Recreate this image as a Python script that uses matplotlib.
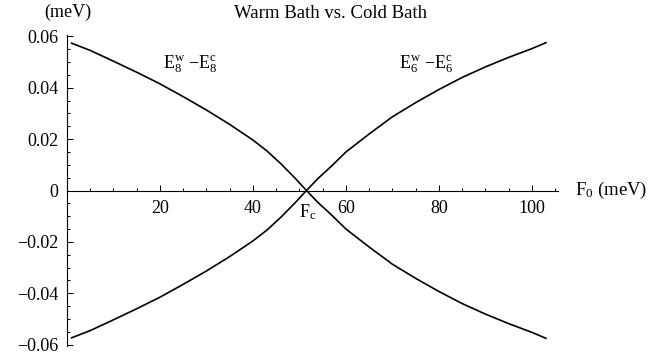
import matplotlib
matplotlib.use("Agg")
import matplotlib.pyplot as plt
from matplotlib.ticker import MultipleLocator, FixedLocator

plt.rcParams["font.family"] = ["Liberation Serif", "DejaVu Serif"]
plt.rcParams["mathtext.fontset"] = "custom"
plt.rcParams["mathtext.rm"] = "Liberation Serif"
plt.rcParams["mathtext.it"] = "Liberation Serif:italic"

# Driving field F0 (meV) and warm-minus-cold energy differences (meV)
f0 = [1, 5, 10, 15, 20, 25, 30, 35, 40, 43, 46, 49, 51.5,
      54, 57, 60, 65, 70, 75, 80, 85, 90, 95, 100, 103]
de6 = [-0.0573, -0.0545, -0.0503, -0.0460, -0.0415, -0.0365, -0.0313,
       -0.0257, -0.0196, -0.0154, -0.0104, -0.0049, 0.0,
       0.0047, 0.0097, 0.0150, 0.0220, 0.0287, 0.0342, 0.0393, 0.0440,
       0.0481, 0.0518, 0.0552, 0.0575]
de8 = [0.0573, 0.0545, 0.0503, 0.0460, 0.0415, 0.0365, 0.0313,
       0.0257, 0.0196, 0.0154, 0.0104, 0.0049, 0.0,
       -0.0047, -0.0097, -0.0150, -0.0220, -0.0287, -0.0342, -0.0393,
       -0.0440, -0.0481, -0.0518, -0.0552, -0.0575]
x_major = [20, 40, 60, 80, 100]
y_major = [-0.06, -0.04, -0.02, 0.0, 0.02, 0.04, 0.06]
y_labels = ["\u22120.06", "\u22120.04", "\u22120.02", "0", "0.02", "0.04", "0.06"]

fig = plt.figure(figsize=(6.49, 3.58), dpi=100)
W, H = 649, 358
ax = fig.add_axes([67 / W, 1 - 346 / H, (558 - 67) / W, (346 - 35) / H])
ax.set_xlim(0, 105.6)
ax.set_ylim(-0.0605, 0.0605)

ax.plot(f0, de8, color="black", lw=1.2)
ax.plot(f0, de6, color="black", lw=1.2)

for s in ("top", "right"):
    ax.spines[s].set_visible(False)
ax.spines["bottom"].set_position(("data", 0))
ax.spines["left"].set_position(("data", 0))
for s in ("bottom", "left"):
    ax.spines[s].set_linewidth(0.8)

ax.xaxis.set_major_locator(FixedLocator(x_major))
ax.xaxis.set_minor_locator(MultipleLocator(5))
ax.yaxis.set_major_locator(FixedLocator(y_major))
ax.set_yticklabels(y_labels)
ax.yaxis.set_minor_locator(MultipleLocator(0.005))
ax.tick_params(which="both", direction="in", labelsize=13, width=0.7,
               pad=6)
ax.tick_params(which="major", length=4.5)
ax.tick_params(which="minor", length=2.5)
ax.tick_params(axis="x", pad=7)

fig.text(68 / W, 1 - 12 / H, "(meV)", ha="center", va="center", fontsize=13)
fig.text(575 / W, 1 - 190 / H, r"F$_0$ (meV)", ha="left", va="center",
         fontsize=13.5)
fig.text(331 / W, 1 - 14 / H, "Warm Bath vs. Cold Bath", ha="center",
         va="center", fontsize=13.5)
ax.text(26.5, 0.049, r"$\mathrm{E}_8^{\mathrm{w}}$ $-\mathrm{E}_8^{\mathrm{c}}$",
        ha="center", va="center", fontsize=13)
ax.text(77.3, 0.049, r"$\mathrm{E}_6^{\mathrm{w}}$ $-\mathrm{E}_6^{\mathrm{c}}$",
        ha="center", va="center", fontsize=13)
ax.text(51.8, -0.0085, r"$\mathrm{F}_\mathrm{c}$", ha="center", va="center",
        fontsize=13)

fig.savefig("out.png", dpi=100)
